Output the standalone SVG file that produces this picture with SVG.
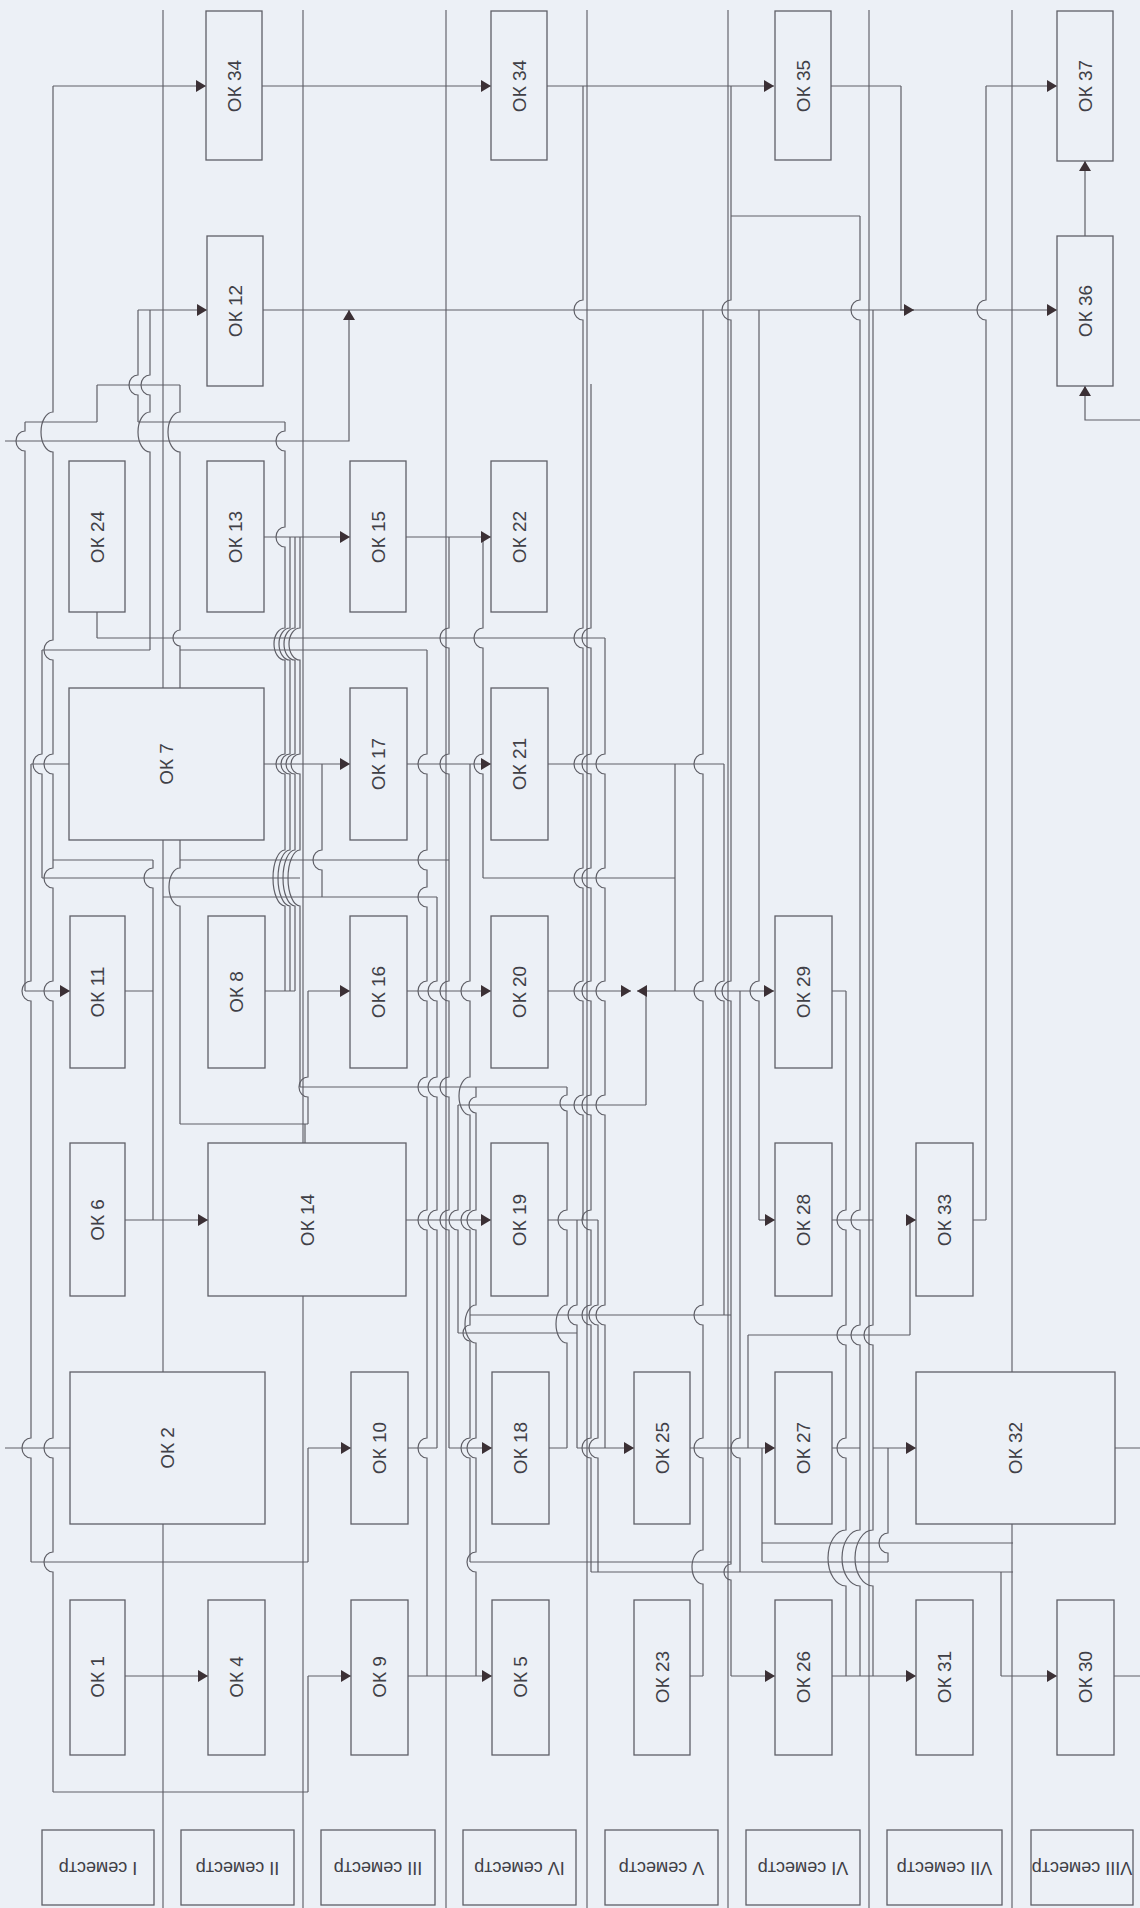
<svg xmlns="http://www.w3.org/2000/svg" width="1140" height="1908" viewBox="0 0 1140 1908">
<style>
.bg{fill:#ecf0f6}
.sep{stroke:#66666e;stroke-width:1.2;fill:none}
.c path{fill:none;stroke:#5f5f67;stroke-width:1.2}
.c path.a{marker-end:url(#ah)}
.c path.b{marker-start:url(#ahr)}
.n rect{fill:#ecf0f6;stroke:#5f5f67;stroke-width:1.3}
.n text{font-family:"Liberation Sans",Arial,sans-serif;font-size:19px;fill:#404047;text-anchor:middle;dominant-baseline:central}
.lab rect{fill:#ecf0f6;stroke:#5f5f67;stroke-width:1.3}
.lab text{font-family:"Liberation Sans",Arial,sans-serif;font-size:18px;fill:#404047;text-anchor:middle;dominant-baseline:central}
</style>
<defs>
<marker id="ah" viewBox="0 0 10 12" refX="10" refY="6" markerWidth="10" markerHeight="12" markerUnits="userSpaceOnUse" orient="auto"><path d="M0,0 L10,6 L0,12 z" fill="#3b3035"/></marker>
<marker id="ahr" viewBox="0 0 10 12" refX="10" refY="6" markerWidth="10" markerHeight="12" markerUnits="userSpaceOnUse" orient="auto-start-reverse"><path d="M0,0 L10,6 L0,12 z" fill="#3b3035"/></marker>
</defs>
<rect class="bg" x="0" y="0" width="1140" height="1908"/>
<g id="lanes">
<path class="sep" d="M163 10 V1908 M303 10 V1908 M446 10 V1908 M587 10 V1908 M728 10 V1908 M869 10 V1908 M1012 10 V1908"/>
</g>
<g id="connectors" class="c">
<path d="M53 86 V412 A12 20 0 0 0 53 452 V640 A9 10 0 0 0 53 660 V754 A9 10 0 0 0 53 774 V868 A9 10 0 0 0 53 888 V981 A9 10 0 0 0 53 1001 V1438 A9 10 0 0 0 53 1458 V1552 A9 10 0 0 0 53 1572 V1792"/>
<path d="M25 422 V431 A9 10 0 0 0 25 451 V991"/>
<path d="M31 764 V981 A9 10 0 0 0 31 1001 V1438 A9 10 0 0 0 31 1458 V1562"/>
<path d="M42 650 V754 A9 10 0 0 0 42 774 V878"/>
<path d="M97 385 V422 M97 612 V638"/>
<path d="M138 310 V375 A9 10 0 0 0 138 395 V422"/>
<path d="M150 310 V375 A9 10 0 0 0 150 395 V412 A12 20 0 0 0 150 452 V650"/>
<path d="M153 860 V868 A9 10 0 0 0 153 888 V1220"/>
<path d="M180 385 V412 A12 20 0 0 0 180 452 V630 A7 8 0 0 0 180 646 V868 A11 19 0 0 0 180 906 V1124"/>
<path d="M285 422 V431 A9 10 0 0 0 285 451 V527 A9 10 0 0 0 285 547 V628 A11 16 0 0 0 285 660 V754 A9 10 0 0 0 285 774 V850 A12 28 0 0 0 285 906 V991"/>
<path d="M290 537 V628 A11 16 0 0 0 290 660 V754 A9 10 0 0 0 290 774 V850 A12 28 0 0 0 290 906 V991"/>
<path d="M295 537 V628 A11 16 0 0 0 295 660 V754 A9 10 0 0 0 295 774 V850 A12 28 0 0 0 295 906 V991"/>
<path d="M300 537 V628 A11 16 0 0 0 300 660 V754 A9 10 0 0 0 300 774 V850 A12 28 0 0 0 300 906 V1087"/>
<path d="M305 1124 V1143"/>
<path d="M308 991 V1077 A9 10 0 0 0 308 1097 V1124 M308 1448 V1562 M308 1676 V1792"/>
<path d="M322 764 V850 A9 10 0 0 0 322 870 V897"/>
<path d="M427 650 V754 A9 10 0 0 0 427 774 V850 A9 10 0 0 0 427 870 V887 A9 10 0 0 0 427 907 V981 A9 10 0 0 0 427 1001 V1077 A9 10 0 0 0 427 1097 V1210 A9 10 0 0 0 427 1230 V1438 A9 10 0 0 0 427 1458 V1676"/>
<path d="M437 897 V981 A9 10 0 0 0 437 1001 V1077 A9 10 0 0 0 437 1097 V1210 A9 10 0 0 0 437 1230 V1448"/>
<path d="M449 537 V628 A9 10 0 0 0 449 648 V754 A9 10 0 0 0 449 774 V981 A9 10 0 0 0 449 1001 V1077 A9 10 0 0 0 449 1097 V1210 A9 10 0 0 0 449 1230 V1448"/>
<path d="M458 1105 V1210 A9 10 0 0 0 458 1230 V1333"/>
<path d="M470 764 V981 A9 10 0 0 0 470 1001 V1077 A11 19 0 0 0 470 1115 V1210 A9 10 0 0 0 470 1230 V1325 A7 8 0 0 0 470 1341 V1438 A9 10 0 0 0 470 1458 V1562"/>
<path d="M476 1087 V1097 A7 8 0 0 0 476 1113 V1210 A9 10 0 0 0 476 1230 V1305 A11 19 0 0 0 476 1343 V1438 A9 10 0 0 0 476 1458 V1552 A9 10 0 0 0 476 1572 V1676"/>
<path d="M483 537 V628 A9 10 0 0 0 483 648 V754 A9 10 0 0 0 483 774 V878"/>
<path d="M567 1087 V1095 A7 8 0 0 0 567 1111 V1210 A9 10 0 0 0 567 1230 V1305 A11 19 0 0 0 567 1343 V1448"/>
<path d="M577 1220 V1305 A9 10 0 0 0 577 1325 V1448"/>
<path d="M583 86 V300 A9 10 0 0 0 583 320 V628 A9 10 0 0 0 583 648 V754 A9 10 0 0 0 583 774 V868 A9 10 0 0 0 583 888 V981 A9 10 0 0 0 583 1001 V1095 A9 10 0 0 0 583 1115 V1220"/>
<path d="M591 384 V628 A9 10 0 0 0 591 648 V754 A9 10 0 0 0 591 774 V868 A9 10 0 0 0 591 888 V981 A9 10 0 0 0 591 1001 V1095 A9 10 0 0 0 591 1115 V1210 A9 10 0 0 0 591 1230 V1305 A9 10 0 0 0 591 1325 V1438 A9 10 0 0 0 591 1458 V1572"/>
<path d="M598 1220 V1305 A9 10 0 0 0 598 1325 V1438 A9 10 0 0 0 598 1458 V1572"/>
<path d="M605 638 V754 A9 10 0 0 0 605 774 V868 A9 10 0 0 0 605 888 V981 A9 10 0 0 0 605 1001 V1095 A9 10 0 0 0 605 1115 V1305 A9 10 0 0 0 605 1325 V1448"/>
<path d="M646 991 V1105 M675 764 V991"/>
<path d="M703 310 V754 A9 10 0 0 0 703 774 V981 A9 10 0 0 0 703 1001 V1305 A9 10 0 0 0 703 1325 V1438 A9 10 0 0 0 703 1458 V1550 A11 17 0 0 0 703 1584 V1676"/>
<path d="M724 764 V981 A9 10 0 0 0 724 1001 V1315"/>
<path d="M731 86 V300 A9 10 0 0 0 731 320 V981 A9 10 0 0 0 731 1001 V1564 A7 8 0 0 0 731 1580 V1676"/>
<path d="M740 991 V1438 A9 10 0 0 0 740 1458 V1572"/>
<path d="M759 310 V981 A9 10 0 0 0 759 1001 V1220"/>
<path d="M762 1448 V1562 M748 1335 V1448"/>
<path d="M846 991 V1210 A9 10 0 0 0 846 1230 V1325 A9 10 0 0 0 846 1345 V1438 A9 10 0 0 0 846 1458 V1530 A18 28 0 0 0 846 1586 V1676"/>
<path d="M860 216 V300 A9 10 0 0 0 860 320 V1210 A9 10 0 0 0 860 1230 V1325 A9 10 0 0 0 860 1345 V1530 A18 28 0 0 0 860 1586 V1676"/>
<path d="M873 310 V1325 A9 10 0 0 0 873 1345 V1530 A18 28 0 0 0 873 1586 V1676"/>
<path d="M888 1448 V1533 A9 10 0 0 0 888 1553 V1562"/>
<path d="M901 86 V310 M910 1220 V1335 M1001 1572 V1676"/>
<path d="M986 86 V300 A9 10 0 0 0 986 320 V1220"/>
<path d="M831 86 H901 M731 216 H860 M97 385 H180 M25 422 H97 M138 422 H285 M97 638 H605 M42 650 H150 M180 650 H427"/>
<path d="M31 764 H69 M548 764 H724 M53 860 H153 M180 860 H449 M42 878 H300 M483 878 H675 M163 897 H437"/>
<path d="M125 991 H153 M265 991 H295 M832 991 H846 M300 1087 H567 M458 1105 H646 M180 1124 H308"/>
<path d="M548 1220 H598 M832 1220 H873 M973 1220 H986 M470 1315 H731 M458 1333 H577 M748 1335 H910"/>
<path d="M5 1448 H70 M408 1448 H437 M549 1448 H567 M832 1448 H860 M1115 1448 H1140"/>
<path d="M762 1543 H1013 M31 1562 H308 M470 1562 H731 M762 1562 H888 M591 1572 H1013"/>
<path d="M689 1676 H703 M1114 1676 H1140 M53 1792 H308"/>
<path class="a" d="M53 86 H206"/>
<path class="a" d="M262 86 H491"/>
<path class="a" d="M546 86 H774"/>
<path class="a" d="M986 86 H1057"/>
<path class="a" d="M1085 236 V161"/>
<path class="a" d="M138 310 H207"/>
<path class="a" d="M263 310 H1057"/>
<path class="a" d="M900 310 H914"/>
<path class="a" d="M1140 420 H1085 V386"/>
<path class="a" d="M5 441 H349 V310"/>
<path class="a" d="M264 537 H350"/>
<path class="a" d="M406 537 H491"/>
<path class="a" d="M264 764 H350"/>
<path class="a" d="M407 764 H491"/>
<path class="a" d="M25 991 H70"/>
<path class="a" d="M308 991 H350"/>
<path class="a" d="M407 991 H491"/>
<path class="a" d="M548 991 H631"/>
<path class="a b" d="M637 991 H774"/>
<path class="a" d="M125 1220 H208"/>
<path class="a" d="M406 1220 H491"/>
<path class="a" d="M759 1220 H775"/>
<path class="a" d="M906 1220 H916"/>
<path class="a" d="M308 1448 H351"/>
<path class="a" d="M449 1448 H492"/>
<path class="a" d="M577 1448 H634"/>
<path class="a" d="M689 1448 H775"/>
<path class="a" d="M873 1448 H916"/>
<path class="a" d="M125 1676 H208"/>
<path class="a" d="M308 1676 H351"/>
<path class="a" d="M408 1676 H492"/>
<path class="a" d="M731 1676 H775"/>
<path class="a" d="M832 1676 H916"/>
<path class="a" d="M1001 1676 H1057"/>
</g>
<g id="ok34a" class="n"><rect x="206" y="11" width="56" height="149"/><text transform="translate(234 86) rotate(-90)">ОК 34</text></g>
<g id="ok34b" class="n"><rect x="491" y="11" width="56" height="149"/><text transform="translate(519 86) rotate(-90)">ОК 34</text></g>
<g id="ok35" class="n"><rect x="775" y="11" width="56" height="149"/><text transform="translate(803 86) rotate(-90)">ОК 35</text></g>
<g id="ok37" class="n"><rect x="1057" y="11" width="56" height="150"/><text transform="translate(1085 86) rotate(-90)">ОК 37</text></g>
<g id="ok12" class="n"><rect x="207" y="236" width="56" height="150"/><text transform="translate(235 311) rotate(-90)">ОК 12</text></g>
<g id="ok36" class="n"><rect x="1057" y="236" width="56" height="150"/><text transform="translate(1085 311) rotate(-90)">ОК 36</text></g>
<g id="ok24" class="n"><rect x="69" y="461" width="56" height="151"/><text transform="translate(97 537) rotate(-90)">ОК 24</text></g>
<g id="ok13" class="n"><rect x="207" y="461" width="57" height="151"/><text transform="translate(235.5 537) rotate(-90)">ОК 13</text></g>
<g id="ok15" class="n"><rect x="350" y="461" width="56" height="151"/><text transform="translate(378 537) rotate(-90)">ОК 15</text></g>
<g id="ok22" class="n"><rect x="491" y="461" width="56" height="151"/><text transform="translate(519 537) rotate(-90)">ОК 22</text></g>
<g id="ok7" class="n"><rect x="69" y="688" width="195" height="152"/><text transform="translate(166.5 764) rotate(-90)">ОК 7</text></g>
<g id="ok17" class="n"><rect x="350" y="688" width="57" height="152"/><text transform="translate(378.5 764) rotate(-90)">ОК 17</text></g>
<g id="ok21" class="n"><rect x="491" y="688" width="57" height="152"/><text transform="translate(519.5 764) rotate(-90)">ОК 21</text></g>
<g id="ok11" class="n"><rect x="70" y="916" width="55" height="152"/><text transform="translate(97.5 992) rotate(-90)">ОК 11</text></g>
<g id="ok8" class="n"><rect x="208" y="916" width="57" height="152"/><text transform="translate(236.5 992) rotate(-90)">ОК 8</text></g>
<g id="ok16" class="n"><rect x="350" y="916" width="57" height="152"/><text transform="translate(378.5 992) rotate(-90)">ОК 16</text></g>
<g id="ok20" class="n"><rect x="491" y="916" width="57" height="152"/><text transform="translate(519.5 992) rotate(-90)">ОК 20</text></g>
<g id="ok29" class="n"><rect x="775" y="916" width="57" height="152"/><text transform="translate(803.5 992) rotate(-90)">ОК 29</text></g>
<g id="ok6" class="n"><rect x="70" y="1143" width="55" height="153"/><text transform="translate(97.5 1220) rotate(-90)">ОК 6</text></g>
<g id="ok14" class="n"><rect x="208" y="1143" width="198" height="153"/><text transform="translate(307 1220) rotate(-90)">ОК 14</text></g>
<g id="ok19" class="n"><rect x="491" y="1143" width="57" height="153"/><text transform="translate(519.5 1220) rotate(-90)">ОК 19</text></g>
<g id="ok28" class="n"><rect x="775" y="1143" width="57" height="153"/><text transform="translate(803.5 1220) rotate(-90)">ОК 28</text></g>
<g id="ok33" class="n"><rect x="916" y="1143" width="57" height="153"/><text transform="translate(944.5 1220) rotate(-90)">ОК 33</text></g>
<g id="ok2" class="n"><rect x="70" y="1372" width="195" height="152"/><text transform="translate(167.5 1448) rotate(-90)">ОК 2</text></g>
<g id="ok10" class="n"><rect x="351" y="1372" width="57" height="152"/><text transform="translate(379.5 1448) rotate(-90)">ОК 10</text></g>
<g id="ok18" class="n"><rect x="492" y="1372" width="57" height="152"/><text transform="translate(520.5 1448) rotate(-90)">ОК 18</text></g>
<g id="ok25" class="n"><rect x="634" y="1372" width="56" height="152"/><text transform="translate(662 1448) rotate(-90)">ОК 25</text></g>
<g id="ok27" class="n"><rect x="775" y="1372" width="57" height="152"/><text transform="translate(803.5 1448) rotate(-90)">ОК 27</text></g>
<g id="ok32" class="n"><rect x="916" y="1372" width="199" height="152"/><text transform="translate(1015.5 1448) rotate(-90)">ОК 32</text></g>
<g id="ok1" class="n"><rect x="70" y="1600" width="55" height="155"/><text transform="translate(97.5 1677) rotate(-90)">ОК 1</text></g>
<g id="ok4" class="n"><rect x="208" y="1600" width="57" height="155"/><text transform="translate(236.5 1677) rotate(-90)">ОК 4</text></g>
<g id="ok9" class="n"><rect x="351" y="1600" width="57" height="155"/><text transform="translate(379.5 1677) rotate(-90)">ОК 9</text></g>
<g id="ok5" class="n"><rect x="492" y="1600" width="57" height="155"/><text transform="translate(520.5 1677) rotate(-90)">ОК 5</text></g>
<g id="ok23" class="n"><rect x="634" y="1600" width="56" height="155"/><text transform="translate(662 1677) rotate(-90)">ОК 23</text></g>
<g id="ok26" class="n"><rect x="775" y="1600" width="57" height="155"/><text transform="translate(803.5 1677) rotate(-90)">ОК 26</text></g>
<g id="ok31" class="n"><rect x="916" y="1600" width="57" height="155"/><text transform="translate(944.5 1677) rotate(-90)">ОК 31</text></g>
<g id="ok30" class="n"><rect x="1057" y="1600" width="57" height="155"/><text transform="translate(1085.5 1677) rotate(-90)">ОК 30</text></g>
<g id="sem1" class="lab"><rect x="42" y="1830" width="112" height="75"/><text transform="translate(98 1867.5) rotate(180)">I семестр</text></g>
<g id="sem2" class="lab"><rect x="181" y="1830" width="113" height="75"/><text transform="translate(237.5 1867.5) rotate(180)">II семестр</text></g>
<g id="sem3" class="lab"><rect x="321" y="1830" width="114" height="75"/><text transform="translate(378 1867.5) rotate(180)">III семестр</text></g>
<g id="sem4" class="lab"><rect x="463" y="1830" width="113" height="75"/><text transform="translate(519.5 1867.5) rotate(180)">IV семестр</text></g>
<g id="sem5" class="lab"><rect x="605" y="1830" width="113" height="75"/><text transform="translate(661.5 1867.5) rotate(180)">V семестр</text></g>
<g id="sem6" class="lab"><rect x="746" y="1830" width="114" height="75"/><text transform="translate(803 1867.5) rotate(180)">VI семестр</text></g>
<g id="sem7" class="lab"><rect x="887" y="1830" width="115" height="75"/><text transform="translate(944.5 1867.5) rotate(180)">VII семестр</text></g>
<g id="sem8" class="lab"><rect x="1031" y="1830" width="102" height="75"/><text transform="translate(1082 1867.5) rotate(180)">VIII семестр</text></g>
</svg>
